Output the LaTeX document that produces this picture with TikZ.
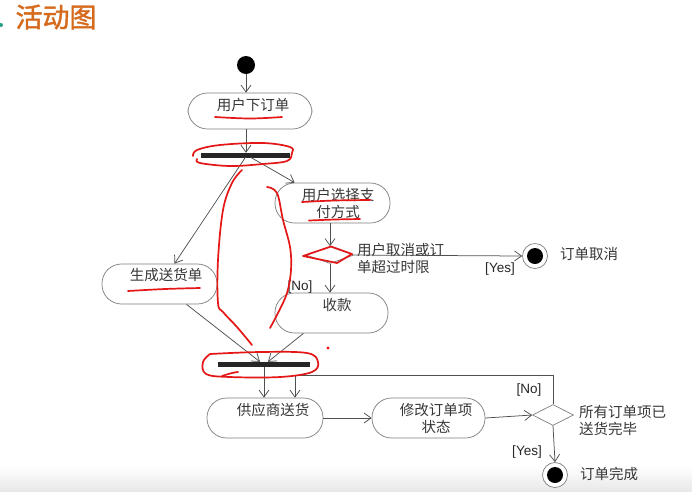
\documentclass[tikz,border=0pt]{standalone}
\usepackage{fontspec}
\setmainfont{Liberation Sans}
\newfontfamily\cjk{Noto Sans CJK SC}
\newfontfamily\cjkttl{Noto Sans CJK SC}[RawFeature={embolden=1.5}]
\usetikzlibrary{arrows.meta,shapes.geometric,calc}
\definecolor{ln}{RGB}{80,80,80}
\definecolor{bx}{RGB}{125,125,125}
\definecolor{tx}{RGB}{55,55,55}
\definecolor{ttl}{RGB}{214,106,28}
\definecolor{rd}{RGB}{228,22,22}
\definecolor{grn}{RGB}{40,160,130}
\begin{document}
\begin{tikzpicture}[x=1pt,y=-1pt,
  act/.style={draw=bx, line width=0.7pt, fill=white, rounded corners=19.5pt, minimum height=40pt, inner sep=0pt},
  txt/.style={font=\cjk\fontsize{14.5}{17}\selectfont, text=tx, align=center, inner sep=0pt},
  side/.style={font=\cjk\fontsize{14.5}{17}\selectfont, text=tx, align=left, inner sep=0pt, anchor=west},
  grd/.style={font=\fontsize{13.5}{15}\selectfont, text=black!85, inner sep=0pt},
  bar/.style={fill=black!85, draw=none, minimum height=5pt, inner sep=0pt},
  dec/.style={diamond, draw=bx, line width=0.7pt, fill=white, inner sep=0pt, aspect=2.5},
  flow/.style={draw=ln, line width=0.75pt, -{Straight Barb[length=7pt,width=10pt]}},
  redink/.style={draw=rd, line width=1.7pt, line cap=round, line join=round},
  finout/.style={circle, draw=bx, line width=0.7pt, fill=white, minimum size=25pt, inner sep=0pt},
  finin/.style={circle, fill=black, minimum size=16pt, inner sep=0pt}
]
\useasboundingbox (0,0) rectangle (692,491);
\fill[white] (0,0) rectangle (692,491);
\shade[top color=white, bottom color=black!9] (0,466) rectangle (692,491);
\fill[grn] (1,25) circle (2pt);
\node[font=\cjkttl\fontsize{27}{30}\selectfont, text=ttl, inner sep=0pt] (title) at (56,17) {活动图};

% nodes
\node[circle, fill=black, minimum size=18pt, inner sep=0pt] (start) at (246,65) {};
\node[act, minimum width=124pt, minimum height=36pt] (order) at (250,111) {};
\node[txt] (orderT) at (253,105) {用户下订单};
\node[bar, minimum width=89pt] (f1) at (245.5,155.5) {};
\node[act, minimum width=115pt] (gen) at (159.5,284) {};
\node[txt] (genT) at (166,275) {生成送货单};
\node[act, minimum width=115pt] (pay) at (332.5,203) {};
\node[txt] (payT) at (338,203.5) {用户选择支\\付方式};
\node[dec, minimum width=48pt, minimum height=17pt] (d1) at (330,255) {};
\node[side] (d1T) at (357,258.5) {用户取消或订\\单超过时限};
\node[finout] (cancel) at (535,256) {};
\node[finin] (cancelIn) at (cancel.center) {};
\node[side] (cancelT) at (560,254) {订单取消};
\node[act, minimum width=113pt] (collect) at (331.5,313) {};
\node[txt] (collectT) at (337,305) {收款};
\node[bar, minimum width=92pt] (f2) at (264,364.5) {};
\node[act, minimum width=116pt] (ship) at (265,418) {};
\node[txt] (shipT) at (273,410) {供应商送货};
\node[act, minimum width=113pt] (mod) at (428.5,418) {};
\node[txt] (modT) at (436,418) {修改订单项\\状态};
\node[dec, minimum width=41pt, minimum height=21pt, aspect=2] (d2) at (553,415) {};
\node[side] (d2T) at (579,420) {所有订单项已\\送货完毕};
\node[finout] (done) at (555,475) {};
\node[finin] (doneIn) at (done.center) {};
\node[side] (doneT) at (580,474) {订单完成};
\node[grd] (yes1) at (500,269) {[Yes]};
\node[grd] (no1) at (300,287) {[No]};
\node[grd] (no2) at (529,390) {[No]};
\node[grd] (yes2) at (527,452) {[Yes]};
\coordinate (lp) at (295,375);

% connectors
\draw[flow] (start) -- (start |- order.north);
\draw[flow] (start |- order.south) -- (start |- f1.north);
\draw[flow] ($(f1.south)+(0,-1)$) -- ($(gen.north)+(15,0)$);
\draw[flow] ($(f1.south)+(5,-1)$) -- ($(pay.north west)+(20,0)$);
\draw[flow] (d1.north |- pay.south) -- (d1.north);
\draw[flow] (d1.east) -- (cancel.west);
\draw[flow] (d1.south) -- (d1.south |- collect.north);
\draw[flow] ($(gen.south)+(27,0)$) -- ($(f2.north)+(-4,0)$);
\draw[flow] ($(collect.south)+(-28,0)$) -- ($(f2.north)+(4,0)$);
\draw[flow] (f2.south) -- (f2.south |- ship.north);
\draw[flow] (d2.north) |- (lp) -- (lp |- ship.north);
\draw[flow] (ship.east) -- (mod.west);
\draw[flow] (mod.east) -- (d2.west);
\draw[flow] (d2.south) -- (done.north);

% red annotations
\draw[redink] plot[smooth, tension=0.6] coordinates {(215,117) (250,118.5) (282,117)};
\draw[redink] plot[smooth, tension=0.6] coordinates {(193,156) (197,150) (220,145) (263,143) (290,147) (292,153) (287,161) (263,164) (230,166) (200,163) (197,159)};
\draw[redink] plot[smooth, tension=0.6] coordinates {(242,170) (232,183) (223,210) (218,260) (218,303) (223,312) (237,327) (252,345)};
\draw[redink] plot[smooth, tension=0.6] coordinates {(267,187) (277,193) (283,220) (290,247) (291,270) (287,293) (278,313) (270,328)};
\draw[redink] plot[smooth, tension=0.6] coordinates {(302,202) (335,200.5) (370,200)};
\draw[redink] plot[smooth, tension=0.6] coordinates {(309,220.5) (335,219.5) (360,219)};
\draw[redink] (303,256) -- (331,246.5) -- (352,254) -- (337,263) -- cycle;
\draw[redink] plot[smooth, tension=0.6] coordinates {(128,291) (165,289) (200,288)};
\draw[redink] plot[smooth, tension=0.6] coordinates {(210,354) (260,352) (307,353) (318,362) (312,372) (280,377) (230,377) (206,374) (203,362) (210,354)};
\draw[redink] plot[smooth, tension=0.6] coordinates {(222,376) (232,373) (238,372)};
\fill[rd] (328,348) circle (1.6pt);
\end{tikzpicture}
\end{document}
